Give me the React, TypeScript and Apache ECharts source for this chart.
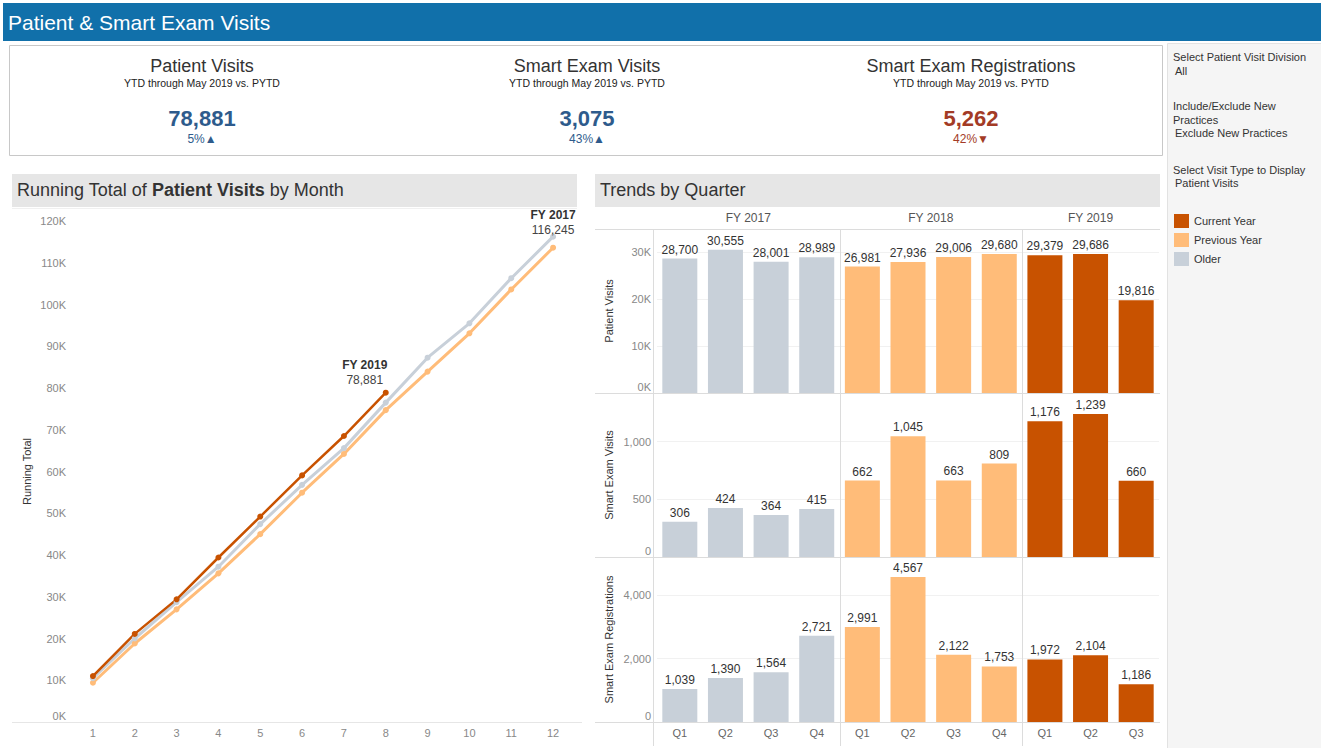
import React, { useEffect, useRef } from "react";
import * as echarts from "echarts";

const FONT = '"Liberation Sans", Arial, Helvetica, sans-serif';

// ---------- data ----------
const months = ["1", "2", "3", "4", "5", "6", "7", "8", "9", "10", "11", "12"];
const runningFY2019 = [11000, 21100, 29379, 39400, 49200, 59065, 68500, 78881];
const runningFY2018 = [9400, 18800, 26981, 35600, 45000, 54917, 64200, 74700, 83923, 93100, 103600, 113603];
const runningFY2017 = [10500, 20000, 28700, 37200, 47400, 56800, 65600, 76500, 87256, 95500, 106300, 116245];

const quarterLabels = ["Q1", "Q2", "Q3", "Q4", "Q1", "Q2", "Q3", "Q4", "Q1", "Q2", "Q3"];
const quarterYear = [0, 0, 0, 0, 1, 1, 1, 1, 2, 2, 2];
const fiscalYears = ["FY 2017", "FY 2018", "FY 2019"];
const patientVisits = [28700, 30555, 28001, 28989, 26981, 27936, 29006, 29680, 29379, 29686, 19816];
const smartExamVisits = [306, 424, 364, 415, 662, 1045, 663, 809, 1176, 1239, 660];
const smartExamRegistrations = [1039, 1390, 1564, 2721, 2991, 4567, 2122, 1753, 1972, 2104, 1186];

const kpiTitles = ["Patient Visits", "Smart Exam Visits", "Smart Exam Registrations"];
const kpiValues = [78881, 3075, 5262];
const kpiChanges = ["5%▲", "43%▲", "42%▼"];
const kpiUp = [true, true, false];

const legendLabels = ["Current Year", "Previous Year", "Older"];
const COLORS = ["#c85200", "#ffbc79", "#c8d0d9"]; // current, previous, older
const yearColor = [COLORS[2], COLORS[1], COLORS[0]];

const fmt = (v: number) => v.toLocaleString("en-US");

export default function App() {
  const ref = useRef<HTMLDivElement>(null);

  useEffect(() => {
    const chart = echarts.init(ref.current!, null, { renderer: "svg" });

    const barLeft = 657;
    const barWidth = 502;
    const bandW = barWidth / quarterLabels.length;
    const rows = [
      { top: 229, h: 164, data: patientVisits, name: "Patient Visits", max: 35000, interval: 10000, k: true },
      { top: 393, h: 164, data: smartExamVisits, name: "Smart Exam Visits", max: 1420, interval: 500, k: false },
      { top: 557, h: 165, data: smartExamRegistrations, name: "Smart Exam Registrations", max: 5200, interval: 2000, k: false },
    ];

    const grids: any[] = [{ left: 72, top: 221, width: 502, height: 501 }];
    rows.forEach((r) => grids.push({ left: barLeft, top: r.top, width: barWidth, height: r.h }));

    const zeroRich = { z: { padding: [0, 0, 12, 0], color: "#888", fontSize: 11, fontFamily: FONT } };

    const xAxes: any[] = [
      {
        type: "category",
        gridIndex: 0,
        data: months,
        boundaryGap: true,
        axisLine: { show: false },
        axisTick: { show: false },
        axisLabel: { color: "#888", fontSize: 11, fontFamily: FONT, margin: 5 },
      },
    ];
    const yAxes: any[] = [
      {
        type: "value",
        gridIndex: 0,
        min: 0,
        max: 120000,
        interval: 10000,
        name: "Running Total",
        nameLocation: "middle",
        nameGap: 40,
        nameRotate: 90,
        nameTextStyle: { color: "#333", fontSize: 11, fontFamily: FONT },
        axisLine: { show: false },
        axisTick: { show: false },
        splitLine: { show: false },
        axisLabel: {
          color: "#888",
          fontSize: 11,
          fontFamily: FONT,
          margin: 6,
          formatter: (v: number) => (v === 0 ? "{z|0K}" : v / 1000 + "K"),
          rich: zeroRich,
        },
      },
    ];
    rows.forEach((r, i) => {
      xAxes.push({
        type: "category",
        gridIndex: i + 1,
        data: quarterLabels,
        axisLine: { show: false },
        axisTick: { show: false },
        axisLabel: { show: i === 2, color: "#666", fontSize: 11, fontFamily: FONT, margin: 5 },
      });
      yAxes.push({
        type: "value",
        gridIndex: i + 1,
        min: 0,
        max: r.max,
        interval: r.interval,
        name: r.name,
        nameLocation: "middle",
        nameGap: 43,
        nameRotate: 90,
        nameTextStyle: { color: "#333", fontSize: 11, fontFamily: FONT },
        axisLine: { show: false },
        axisTick: { show: false },
        splitLine: { show: true, lineStyle: { color: "#f1f1f1" } },
        axisLabel: {
          color: "#888",
          fontSize: 11,
          fontFamily: FONT,
          margin: 6,
          showMaxLabel: false,
          formatter: (v: number) => {
            const s = r.k ? v / 1000 + "K" : fmt(v);
            return v === 0 ? "{z|" + s + "}" : s;
          },
          rich: zeroRich,
        },
      });
    });

    const lineLabel = (title: string, offset: number[]) => ({
      show: true,
      position: "top",
      distance: 2,
      offset,
      formatter: (p: any) => "{t|" + title + "}\n{v|" + fmt(p.value) + "}",
      rich: {
        t: { fontWeight: "bold", fontSize: 12, color: "#333", fontFamily: FONT, lineHeight: 15, align: "center" },
        v: { fontSize: 12, color: "#444", fontFamily: FONT, lineHeight: 15, align: "center" },
      },
    });

    const withEndLabel = (arr: number[], label: any) =>
      arr.map((v, i) => (i === arr.length - 1 ? { value: v, label } : v));

    const lineBase = {
      type: "line",
      xAxisIndex: 0,
      yAxisIndex: 0,
      symbol: "circle",
      symbolSize: 6,
      z: 3,
    };

    const series: any[] = [
      { ...lineBase, name: "FY 2018", data: runningFY2018, itemStyle: { color: COLORS[1] }, lineStyle: { width: 3, color: COLORS[1] } },
      {
        ...lineBase,
        name: "FY 2017",
        data: withEndLabel(runningFY2017, lineLabel("FY 2017", [0, 6])),
        itemStyle: { color: COLORS[2] },
        lineStyle: { width: 3, color: COLORS[2] },
      },
      {
        ...lineBase,
        name: "FY 2019",
        data: withEndLabel(runningFY2019, lineLabel("FY 2019", [-21, 0])),
        itemStyle: { color: COLORS[0] },
        lineStyle: { width: 2.5, color: COLORS[0] },
      },
    ];

    rows.forEach((r, i) => {
      series.push({
        type: "bar",
        xAxisIndex: i + 1,
        yAxisIndex: i + 1,
        barWidth: 35,
        data: r.data.map((v, j) => ({ value: v, itemStyle: { color: yearColor[quarterYear[j]] } })),
        label: {
          show: true,
          position: "top",
          distance: 3,
          color: "#333",
          fontSize: 12,
          fontFamily: FONT,
          formatter: (p: any) => fmt(p.value),
        },
      });
    });

    // ---------- graphics ----------
    const g: any[] = [];
    g.push({ type: "rect", shape: { x: 3, y: 3, width: 1318, height: 38 }, style: { fill: "#1170aa" }, z: -10 });
    g.push({
      type: "text",
      x: 8,
      y: 22,
      style: { text: "Patient & Smart Exam Visits", fill: "#fff", fontSize: 21, fontFamily: FONT, verticalAlign: "middle" },
    });
    g.push({ type: "rect", shape: { x: 9.5, y: 45.5, width: 1153, height: 110 }, style: { fill: "#fff", stroke: "#c8c8c8", lineWidth: 1 }, z: -10 });
    const kpiX = [202, 587, 971];
    kpiTitles.forEach((t, i) => {
      const col = kpiUp[i] ? "#2e5b8c" : "#a33b26";
      g.push({ type: "text", x: kpiX[i], y: 66, style: { text: t, fill: "#333", fontSize: 18, fontFamily: FONT, align: "center", verticalAlign: "middle" } });
      g.push({
        type: "text",
        x: kpiX[i],
        y: 83,
        style: { text: "YTD through May 2019 vs. PYTD", fill: "#222", fontSize: 10.5, fontFamily: FONT, align: "center", verticalAlign: "middle" },
      });
      g.push({
        type: "text",
        x: kpiX[i],
        y: 118,
        style: { text: fmt(kpiValues[i]), fill: col, fontSize: 22, fontWeight: "bold", fontFamily: FONT, align: "center", verticalAlign: "middle" },
      });
      g.push({
        type: "text",
        x: kpiX[i],
        y: 139,
        style: { text: kpiChanges[i], fill: col, fontSize: 12, fontFamily: FONT, align: "center", verticalAlign: "middle" },
      });
    });
    g.push({ type: "rect", shape: { x: 1167.5, y: 43.5, width: 154, height: 705 }, style: { fill: "#f5f5f5", stroke: "#e2e2e2", lineWidth: 1 }, z: -10 });
    const sideTexts: [string, number, number][] = [
      ["Select Patient Visit Division", 1173, 57],
      ["All", 1175, 71],
      ["Include/Exclude New", 1173, 106],
      ["Practices", 1173, 120],
      ["Exclude New Practices", 1175, 133],
      ["Select Visit Type to Display", 1173, 170],
      ["Patient Visits", 1175, 183],
    ];
    sideTexts.forEach(([t, x, y]) =>
      g.push({ type: "text", x, y, style: { text: t, fill: "#333", fontSize: 11, fontFamily: FONT, verticalAlign: "middle" } })
    );
    legendLabels.forEach((t, i) => {
      const y = 214 + i * 19;
      g.push({ type: "rect", shape: { x: 1174, y, width: 15, height: 14 }, style: { fill: COLORS[i] } });
      g.push({ type: "text", x: 1194, y: y + 7, style: { text: t, fill: "#333", fontSize: 11, fontFamily: FONT, verticalAlign: "middle" } });
    });
    g.push({ type: "rect", shape: { x: 12, y: 174, width: 565, height: 33 }, style: { fill: "#e6e6e6" }, z: -10 });
    g.push({ type: "rect", shape: { x: 595, y: 174, width: 565, height: 33 }, style: { fill: "#e6e6e6" }, z: -10 });
    g.push({
      type: "text",
      x: 17,
      y: 190,
      style: {
        text: "{a|Running Total of }{b|Patient Visits}{a| by Month}",
        verticalAlign: "middle",
        rich: {
          a: { fontSize: 18, fill: "#333", color: "#333", fontFamily: FONT },
          b: { fontSize: 18, fill: "#333", color: "#333", fontWeight: "bold", fontFamily: FONT },
        },
      },
    });
    g.push({ type: "text", x: 600, y: 190, style: { text: "Trends by Quarter", fill: "#333", fontSize: 18, fontFamily: FONT, verticalAlign: "middle" } });

    const yearStarts = [0, 4, 8, quarterLabels.length];
    fiscalYears.forEach((fy, i) => {
      const x0 = barLeft + yearStarts[i] * bandW;
      const x1 = barLeft + yearStarts[i + 1] * bandW;
      g.push({ type: "text", x: (x0 + x1) / 2, y: 218, style: { text: fy, fill: "#555", fontSize: 12, fontFamily: FONT, align: "center", verticalAlign: "middle" } });
    });
    const lineStyle = { stroke: "#dcdcdc", lineWidth: 1 };
    const vx = [653, barLeft + 4 * bandW, barLeft + 8 * bandW];
    vx.forEach((x) => g.push({ type: "line", shape: { x1: Math.round(x) + 0.5, y1: 229, x2: Math.round(x) + 0.5, y2: 746 }, style: lineStyle, z: 10 }));
    [229, 393, 557, 722].forEach((y) => g.push({ type: "line", shape: { x1: 595, y1: y + 0.5, x2: 1160, y2: y + 0.5 }, style: lineStyle, z: 10 }));
    g.push({ type: "line", shape: { x1: 12, y1: 722.5, x2: 582, y2: 722.5 }, style: { stroke: "#e6e6e6", lineWidth: 1 } });
    g.push({ type: "line", shape: { x1: 12, y1: 208.5, x2: 577, y2: 208.5 }, style: { stroke: "#f0f0f0", lineWidth: 1 } });

    chart.setOption({
      animation: false,
      backgroundColor: "#fff",
      textStyle: { fontFamily: FONT },
      grid: grids,
      xAxis: xAxes,
      yAxis: yAxes,
      series,
      graphic: g,
    });

    return () => chart.dispose();
  }, []);

  return <div ref={ref} style={{ position: "absolute", left: 0, top: 0, width: 1321, height: 748, background: "#fff" }} />;
}
